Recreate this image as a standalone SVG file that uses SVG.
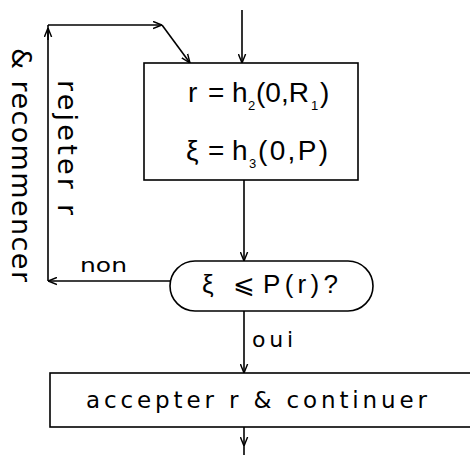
<svg xmlns="http://www.w3.org/2000/svg" width="470" height="455" viewBox="0 0 470 455">
  <style>
    .ln { fill: none; stroke: #000; stroke-width: 1.6; }
    .bx { fill: #fff; stroke: #000; stroke-width: 1.6; }
    .t { font-family: "Liberation Sans", "DejaVu Sans", sans-serif; fill: #000; }
    .w { font-family: "DejaVu Sans", "Liberation Sans", sans-serif; fill: #000; }
    .sub { font-size: 13px; }
  </style>
  <defs>
    <marker id="arr" viewBox="0 0 10 10" refX="10" refY="5" markerWidth="9" markerHeight="9" markerUnits="userSpaceOnUse" orient="auto">
      <path d="M0,1 L10,5 L0,9" fill="none" stroke="#000" stroke-width="1.6"/>
    </marker>
  </defs>

  <g id="connectors">
    <line class="ln" x1="242" y1="10" x2="242" y2="63" marker-end="url(#arr)"/>
    <line class="ln" x1="244" y1="180" x2="244" y2="261" marker-end="url(#arr)"/>
    <line class="ln" x1="170" y1="281" x2="48" y2="281" marker-end="url(#arr)"/>
    <line class="ln" x1="48" y1="281" x2="48" y2="25"/>
    <line class="ln" x1="48" y1="40" x2="48" y2="28" marker-end="url(#arr)"/>
    <line class="ln" x1="48" y1="25" x2="162" y2="25" marker-end="url(#arr)"/>
    <line class="ln" x1="162" y1="25" x2="190" y2="63" marker-end="url(#arr)"/>
    <line class="ln" x1="244" y1="311" x2="244" y2="373" marker-end="url(#arr)"/>
    <line class="ln" x1="244" y1="427" x2="244" y2="446" marker-end="url(#arr)"/>
    <line class="ln" x1="244" y1="446" x2="244" y2="455"/>
  </g>

  <g id="generate">
    <rect class="bx" x="144" y="63" width="214" height="117"/>
    <text class="t" font-size="28" y="102">
      <tspan x="188">r</tspan><tspan x="208">=</tspan><tspan x="232">h</tspan><tspan x="248" y="110" class="sub">2</tspan><tspan x="256" y="102">(0,R</tspan><tspan x="311" y="110" class="sub">1</tspan><tspan x="320" y="102">)</tspan>
    </text>
    <text class="t" font-size="28" y="160">
      <tspan x="186">ξ</tspan><tspan x="208">=</tspan><tspan x="232">h</tspan><tspan x="249" y="168" class="sub">3</tspan><tspan x="258" y="160" textLength="70" lengthAdjust="spacing">(0,P)</tspan>
    </text>
  </g>

  <g id="test">
    <rect class="bx" x="170" y="261" width="203" height="50" rx="25" ry="25"/>
    <text class="t" font-size="26" y="293"><tspan x="202">ξ</tspan><tspan x="233" class="w">⩽</tspan><tspan x="263" textLength="75" lengthAdjust="spacing">P(r)?</tspan></text>
  </g>

  <g id="accept">
    <rect class="bx" x="50" y="373" width="430" height="54"/>
    <text class="w" font-size="23" x="86" y="408" textLength="341" lengthAdjust="spacing">accepter r &amp; continuer</text>
  </g>

  <g id="labels">
    <text class="w" font-size="19" x="80" y="272" textLength="47" lengthAdjust="spacingAndGlyphs">non</text>
    <text class="w" font-size="22" x="252" y="347" textLength="41" lengthAdjust="spacing">oui</text>
    <text class="w" font-size="27" x="58" y="80" transform="rotate(90 58 80)" textLength="135" lengthAdjust="spacing">rejeter r</text>
    <text class="w" font-size="27" x="12" y="48" transform="rotate(90 12 48)" textLength="234" lengthAdjust="spacing">&amp; recommencer</text>
  </g>
</svg>
